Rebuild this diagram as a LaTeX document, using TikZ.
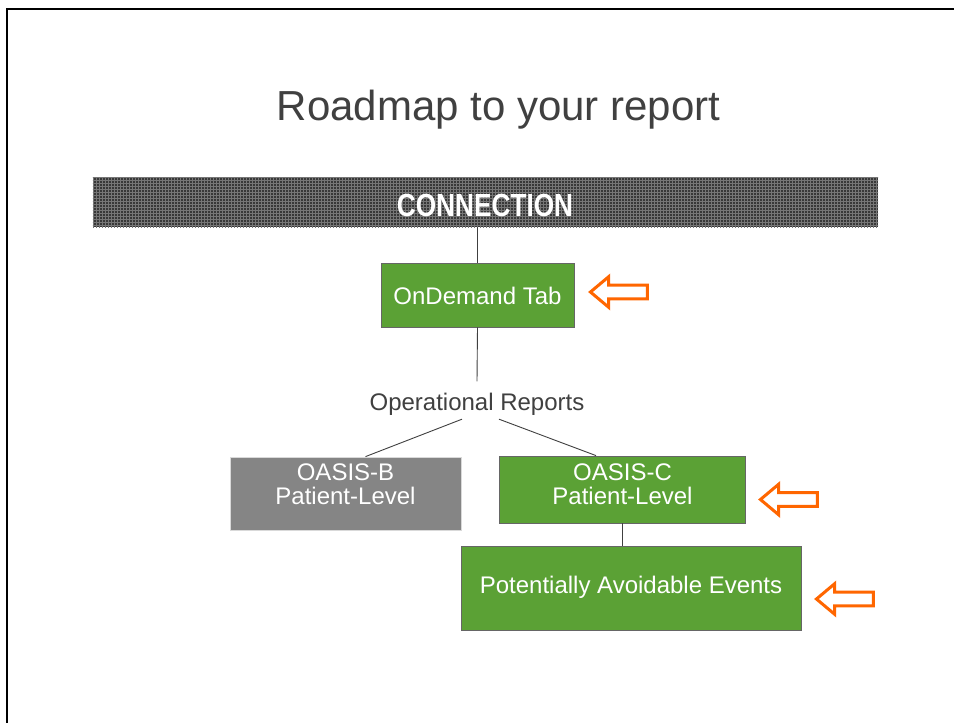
\documentclass[tikz,border=0pt]{standalone}
\usepackage{fontspec}
\setmainfont{Liberation Sans}
\usepackage{graphicx}
\usetikzlibrary{shapes.arrows,patterns}
\definecolor{boxgreen}{HTML}{5BA135}
\definecolor{boxgrey}{HTML}{858585}
\definecolor{txtgrey}{HTML}{404040}
\definecolor{arroworange}{HTML}{FF6600}
\definecolor{bandark}{HTML}{383838}
\definecolor{banlight}{HTML}{767676}
\tikzset{
  greenbox/.style={draw=black!60, line width=0.8pt, fill=boxgreen, inner sep=0pt},
  greybox/.style={draw=black!15, line width=0.8pt, fill=boxgrey, inner sep=0pt},
  wtext/.style={text=white, font=\fontsize{24}{24}\selectfont, anchor=base, inner sep=0pt},
  gtext/.style={text=txtgrey, font=\fontsize{24}{24}\selectfont, anchor=base, inner sep=4pt},
  conn/.style={draw=txtgrey, line width=0.9pt},
  callout/.style={single arrow, shape border rotate=180, draw=arroworange, line width=3pt,
    fill=white, minimum height=57pt, inner xsep=0pt, inner ysep=5.3pt,
    single arrow tip angle=80, single arrow head extend=8.5pt}
}
\begin{document}
\begin{tikzpicture}[x=1pt,y=-1pt]
\useasboundingbox (0,0) rectangle (954,723);
\fill[white] (0,0) rectangle (954,723);
% frame
\draw[line width=2.6pt, line cap=rect] (954,9) -- (7,9) -- (7,723);
% title
\node[text=txtgrey, font=\fontsize{42}{42}\selectfont, anchor=base, inner sep=0pt] (title) at (498.5,120) {Roadmap to your report};
% banner
\node[fill=bandark, minimum width=785pt, minimum height=49pt, inner sep=0pt] (banner) at (485.5,202.5) {};
\fill[pattern=grid, pattern color=banlight] (banner.south west) rectangle (banner.north east);
\node[text=white, font=\bfseries\fontsize{32}{32}\selectfont, anchor=base, inner sep=0pt] (bantext) at (485,216) {\scalebox{0.82}[1]{CONNECTION}};
% OnDemand
\node[greenbox, minimum width=193pt, minimum height=64pt] (ondemand) at (477.5,295) {};
\node[wtext] (ondemandt) at (477.5,304) {OnDemand Tab};
% Operational Reports
\node[gtext] (opr) at (477,410) {Operational Reports};
% OASIS-B
\node[greybox, minimum width=231pt, minimum height=73pt] (oasisb) at (345.5,493.5) {};
\node[wtext] (oasisbt1) at (345.5,480) {OASIS-B};
\node[wtext] (oasisbt2) at (345.5,504) {Patient-Level};
% OASIS-C
\node[greenbox, minimum width=246pt, minimum height=67pt] (oasisc) at (622,489.5) {};
\node[wtext] (oasisct1) at (622.5,480) {OASIS-C};
\node[wtext] (oasisct2) at (622.5,504) {Patient-Level};
% PAE
\node[greenbox, minimum width=340pt, minimum height=84pt] (pae) at (631,588) {};
\node[wtext] (paet) at (631,593) {Potentially Avoidable Events};
% connectors
\draw[conn] (ondemand.north) -- (ondemand.north |- banner.south);
\draw[conn] (ondemand.south) -- ([yshift=7pt]opr.north);
\draw[conn] ([xshift=-15pt]opr.south) -- ([xshift=20pt]oasisb.north);
\draw[conn] ([xshift=22pt]opr.south) -- ([xshift=-26pt]oasisc.north);
\draw[conn] (oasisc.south) -- (oasisc.south |- pae.north);
% callout arrows
\node[callout] (arr1) at (623,292) {};
\node[callout] (arr2) at (793,499.5) {};
\node[callout] (arr3) at (849,599) {};
\end{tikzpicture}
\end{document}
